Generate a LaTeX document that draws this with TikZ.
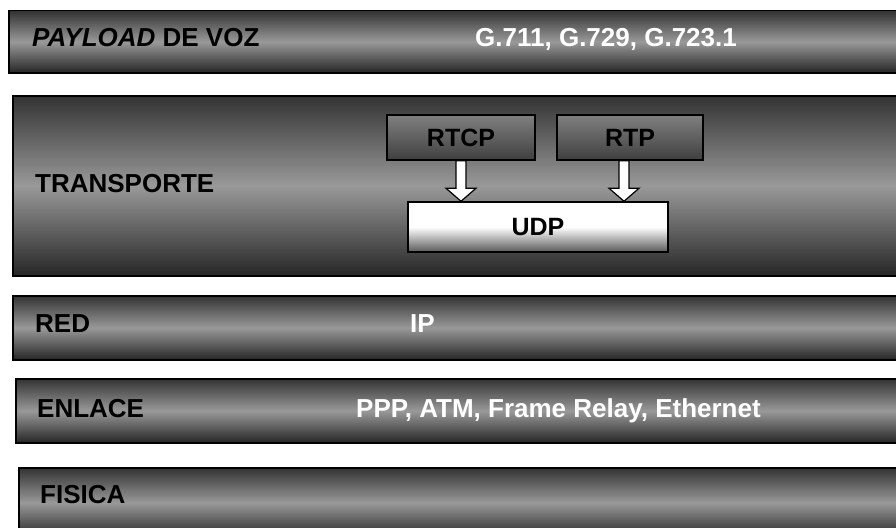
\documentclass[tikz,border=0pt]{standalone}
\usepackage{fontspec}
\setmainfont{Liberation Sans}
\usetikzlibrary{calc,positioning}

\newcommand*{\xmin}{0}
\newcommand*{\xmax}{896}
\newcommand*{\ymin}{0}
\newcommand*{\ymax}{527}

% hollow block arrow from #1 down to #2
\newcommand*{\hollowdown}[2]{%
	\draw[hollow] let \p1=(#1), \p2=(#2) in
		(\x1-5pt,\y1) -- (\x1-5pt,\y2+13pt) -- (\x1-15pt,\y2+13pt) -- (\x1,\y2)
		-- (\x1+15pt,\y2+13pt) -- (\x1+5pt,\y2+13pt) -- (\x1+5pt,\y1) -- cycle;}

\begin{document}
\begin{tikzpicture}
[
	x=1pt,y=-1pt,
	band/.style={draw=black,line width=1.5pt,top color=black!80,bottom color=black!85,middle color=black!40,inner sep=0pt,anchor=north west,minimum width=900pt},
	lbl/.style={font=\bfseries\fontsize{26}{30}\selectfont,anchor=base west,inner sep=0pt},
	wlbl/.style={lbl,text=white},
	proto/.style={draw=black,line width=1.5pt,top color=black!50,bottom color=black!75,inner sep=0pt,minimum height=45pt,font=\bfseries\fontsize{25}{30}\selectfont},
	udpbox/.style={proto,top color=white,bottom color=black!65,middle color=white,minimum height=50pt,text=black},
	hollow/.style={draw=black,line width=1.2pt,fill=white}
]

	\useasboundingbox (\xmin,\ymin) rectangle (\xmax,\ymax);
	\clip (\xmin,\ymin) rectangle (\xmax,\ymax);

	% bands
	\node[band,minimum height=62pt] (payload) at (8,10) {};
	\node[band,minimum height=180pt] (transporte) at (12,95) {};
	\node[band,minimum height=64pt] (red) at (12,295) {};
	\node[band,minimum height=64pt] (enlace) at (15,378) {};
	\node[band,minimum height=70pt] (fisica) at (18,467) {};

	% layer names
	\node[lbl] (payloadlbl) at (32,47) {\textit{PAYLOAD} DE VOZ};
	\node[lbl] (transportelbl) at (35,192) {TRANSPORTE};
	\node[lbl] (redlbl) at (35,332) {RED};
	\node[lbl] (enlacelbl) at (37,417) {ENLACE};
	\node[lbl] (fisicalbl) at (40,503) {FISICA};

	% protocols
	\node[wlbl] (codecs) at (475,47) {G.711, G.729, G.723.1};
	\node[wlbl] (ip) at (410,332) {IP};
	\node[wlbl] (links) at (356,417) {PPP, ATM, Frame Relay, Ethernet};

	\node[proto,minimum width=148pt] (rtcp) at (461,137.5) {RTCP};
	\node[proto,minimum width=146pt] (rtp) at (630,137.5) {RTP};
	\node[udpbox,minimum width=260pt] (udp) at (538,227) {UDP};

	\coordinate (rtpout) at ([xshift=-6pt]rtp.south);
	\hollowdown{rtcp.south}{rtcp.south |- udp.north}
	\hollowdown{rtpout}{rtpout |- udp.north}

\end{tikzpicture}
\end{document}
